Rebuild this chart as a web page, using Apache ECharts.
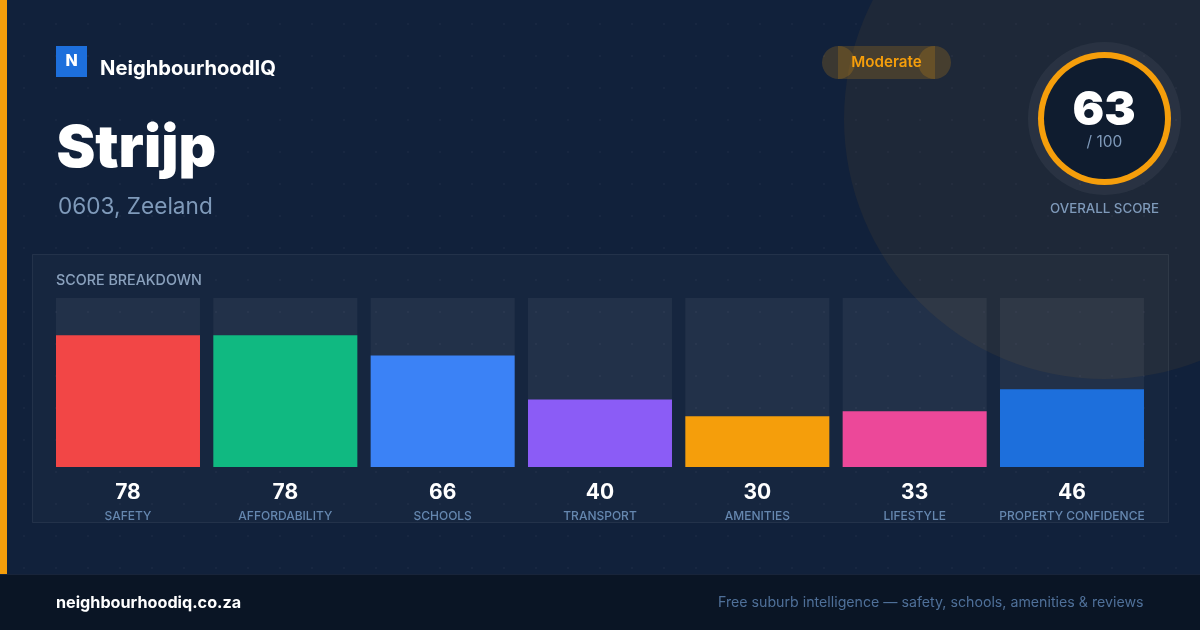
<!DOCTYPE html>
<html>
<head>
<meta charset="utf-8">
<script src="https://cdn.jsdelivr.net/npm/echarts@6/dist/echarts.min.js"></script>
<style>
    html, body { margin: 0; padding: 0; background: #11213b; }
    #main { width: 1200px; height: 630px; }
</style>
</head>
<body>

<div id="main"></div>

<script type="text/javascript">
    var categories = ['SAFETY', 'AFFORDABILITY', 'SCHOOLS', 'TRANSPORT', 'AMENITIES', 'LIFESTYLE', 'PROPERTY CONFIDENCE'];
    var scores = [78, 78, 66, 40, 30, 33, 46];
    var overallScore = 63;
    var overallMax = 100;

    var barColors = ['#f24646', '#10b981', '#3b82f6', '#8b5cf6', '#f59e0b', '#ec4899', '#1d6fdc'];
    var font = 'Inter';

    // faint dot grid behind everything
    var dotTile = document.createElement('canvas');
    dotTile.width = 32;
    dotTile.height = 32;
    var dotCtx = dotTile.getContext('2d');
    dotCtx.fillStyle = 'rgba(255,255,255,0.035)';
    dotCtx.beginPath();
    dotCtx.arc(24, 24, 1.2, 0, Math.PI * 2);
    dotCtx.fill();

    function label(text, x, y, size, weight, color, align) {
        return {
            type: 'text',
            z: 5,
            silent: true,
            style: {
                text: text,
                x: x,
                y: y,
                fontFamily: font,
                fontSize: size,
                fontWeight: weight,
                fill: color,
                align: align || 'left',
                verticalAlign: 'middle'
            }
        };
    }

    function box(x, y, w, h, fill, z, stroke) {
        return {
            type: 'rect',
            z: z,
            silent: true,
            shape: { x: x, y: y, width: w, height: h },
            style: { fill: fill, stroke: stroke || null, lineWidth: stroke ? 1 : 0 }
        };
    }

    function disc(cx, cy, r, fill, z) {
        return {
            type: 'circle',
            z: z,
            silent: true,
            shape: { cx: cx, cy: cy, r: r },
            style: { fill: fill }
        };
    }

    var pillColor = 'rgba(245,158,11,0.19)';

    var myChart = echarts.init(document.getElementById('main'));

    var option = {
        animation: false,
        backgroundColor: '#11213b',
        grid: { left: 49.33, top: 298, width: 1101.33, height: 169 },
        xAxis: {
            type: 'category',
            data: categories,
            axisLine: { show: false },
            axisTick: { show: false },
            axisLabel: {
                interval: 0,
                margin: 12,
                formatter: function (value, index) {
                    return '{v|' + scores[index] + '}\n{n|' + value + '}';
                },
                rich: {
                    v: { fontFamily: font, fontSize: 21, fontWeight: 700, color: '#ffffff', lineHeight: 27 },
                    n: { fontFamily: font, fontSize: 12, fontWeight: 500, color: '#6285ae', lineHeight: 20 }
                }
            }
        },
        yAxis: {
            type: 'value',
            min: 0,
            max: 100,
            show: false
        },
        series: [
            {
                type: 'bar',
                barWidth: 144,
                z: 3,
                silent: true,
                showBackground: true,
                backgroundStyle: { color: 'rgba(255,255,255,0.055)' },
                data: scores.map(function (s, i) {
                    return { value: s, itemStyle: { color: barColors[i] } };
                })
            }
        ],
        graphic: [
            box(0, 0, 1200, 574, { image: dotTile, repeat: 'repeat' }, 0),
            disc(1104, 119, 260, 'rgba(245,158,11,0.06)', 0),
            box(0, 0, 7, 574, '#f59e0b', 1),
            box(32.5, 254.5, 1136, 268, 'rgba(255,255,255,0.025)', 1, 'rgba(255,255,255,0.07)'),
            box(0, 574, 1200, 56, '#0a1525', 1),
            box(0, 574, 1200, 1, '#18243a', 2),

            box(56, 46, 31, 31, '#1d6fdc', 2),
            label('N', 71.5, 61.5, 16, 800, '#ffffff', 'center'),
            label('NeighbourhoodIQ', 100, 69, 20.2, 700, '#ffffff'),
            label('Strijp', 56.5, 149, 58.3, 900, '#ffffff'),
            label('0603, Zeeland', 58, 207, 22.6, 400, '#7f9aba'),

            box(838, 46, 97, 33, pillColor, 2),
            disc(838.5, 62.5, 16.5, pillColor, 2),
            disc(934.5, 62.5, 16.5, pillColor, 2),
            label('Moderate', 886.5, 62.5, 15.2, 600, '#f59e0b', 'center'),

            disc(1104.5, 118.5, 76.5, 'rgba(255,255,255,0.05)', 2),
            disc(1104.5, 118.5, 66.5, '#f59e0b', 3),
            disc(1104.5, 118.5, 60.5, '#0f1c2f', 4),
            label(String(overallScore), 1104, 111, 47, 900, '#ffffff', 'center'),
            label('/ ' + overallMax, 1104.5, 142, 15.5, 400, '#7f9aba', 'center'),
            label('OVERALL SCORE', 1104.5, 208.5, 13.3, 500, '#7f9aba', 'center'),

            label('SCORE BREAKDOWN', 56, 281, 14.3, 500, '#8aa1bd'),

            label('neighbourhoodiq.co.za', 56, 603, 16.2, 700, '#ffffff'),
            label('Free suburb intelligence \u2014 safety, schools, amenities & reviews', 1143.5, 603, 14.2, 400, '#4f7099', 'right')
        ]
    };

    myChart.setOption(option);
</script>
</body>
</html>
